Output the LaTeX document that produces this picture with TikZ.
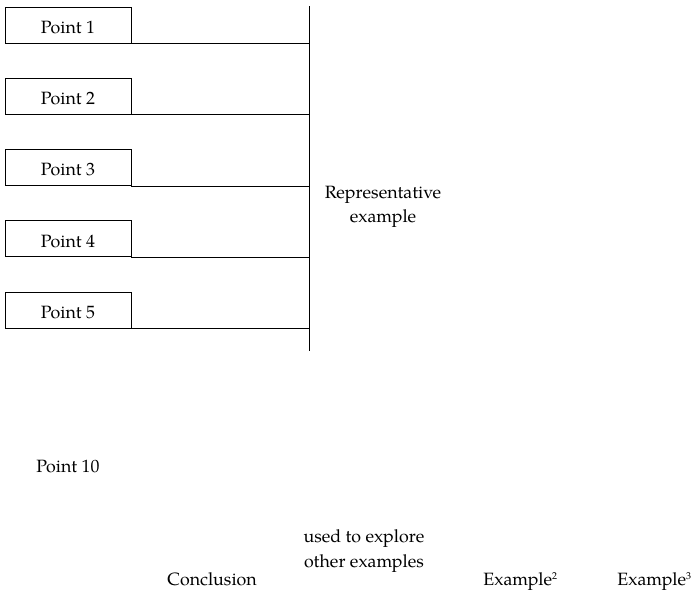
\documentclass[tikz,border=0pt]{standalone}
\usepackage{fontspec}
\setmainfont{texgyrepagella-regular.otf}
\newcommand{\supdig}[1]{\raisebox{5.5pt}{\fontsize{10}{10}\selectfont #1}}
\begin{document}
\begin{tikzpicture}[x=1pt,y=-1pt,line width=0.9pt,
  pbox/.style={draw,minimum width=126pt,minimum height=36pt,inner sep=0pt},
  txt/.style={font=\fontsize{17.8}{24}\selectfont,inner sep=0pt}]
\useasboundingbox (0,0) rectangle (695,590);
% vertical bar
\coordinate (vtop) at (309,6);
\coordinate (vbot) at (309,351);
\draw (vtop) -- (vbot);
% boxes
\foreach \i in {1,...,5}{
  \pgfmathsetmacro{\yc}{25+71.25*(\i-1)}
  \node[pbox] (p\i) at (68,\yc) {};
  \node[txt,anchor=base] (t\i) at (68,\yc+8.3) {Point \i};
  \draw (p\i.south east) -- (p\i.south east -| vtop);
}
\node[txt,anchor=base] (rep1) at (383,198) {Representative};
\node[txt,anchor=base] (rep2) at (383,222) {example};
\node[txt,anchor=base west] (p10) at (36,472) {Point 10};
\node[txt,anchor=base] (use1) at (364,542) {used to explore};
\node[txt,anchor=base] (use2) at (364,567) {other examples};
\node[txt,anchor=base west] (concl) at (167,585) {Conclusion};
\node[txt,anchor=base west] (ex2) at (483,585) {Example\supdig{2}};
\node[txt,anchor=base west] (ex3) at (617,585) {Example\supdig{3}};
\end{tikzpicture}
\end{document}
